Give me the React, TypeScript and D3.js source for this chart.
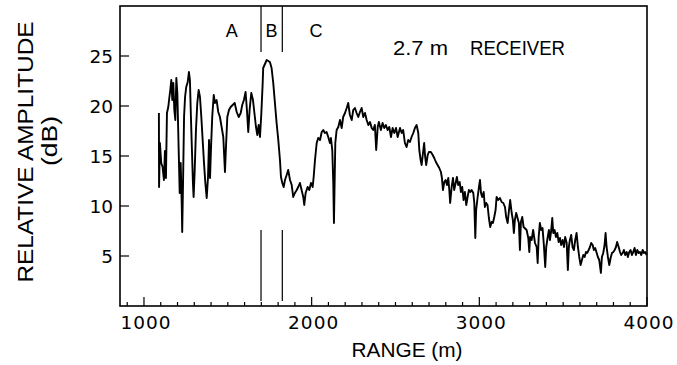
import React from "react";
import * as d3 from "d3";

// Range (m), relative amplitude (dB)
const amplitudeTrace: [number, number][] = [
  [1089, 19.3], [1090, 11.9], [1095, 16.3], [1103, 14.3], [1111, 13.9], [1119, 12.6], [1125, 15.5], [1131, 12.8],
  [1137, 19.3], [1145, 19.9], [1151, 20.8], [1157, 21.6], [1163, 22.6], [1169, 20.6], [1175, 22.3], [1181, 19.6],
  [1187, 18.6], [1193, 22.8], [1199, 21.3], [1207, 15.6], [1213, 11.3], [1219, 14.3], [1225, 10.3], [1228, 7.4],
  [1233, 12.3], [1239, 18.9], [1245, 20.9], [1252, 21.9], [1261, 22.4], [1268, 23.4], [1274, 22.6], [1280, 18.9],
  [1286, 15.6], [1292, 12.3], [1296, 10.9], [1302, 13.3], [1310, 17.6], [1318, 20.3], [1326, 21.6], [1334, 20.9],
  [1342, 18.9], [1350, 16.6], [1358, 14.3], [1366, 12.3], [1374, 10.8], [1382, 12.9], [1388, 16.6], [1394, 12.8],
  [1400, 15.9], [1407, 18.9], [1416, 21.1], [1423, 20.3], [1433, 20.6], [1443, 19.4], [1453, 18.9], [1463, 17.9],
  [1473, 16.9], [1483, 13.4], [1489, 15.9], [1497, 18.9], [1507, 19.6], [1517, 19.9], [1529, 20.1], [1541, 20.3],
  [1553, 19.4], [1565, 18.9], [1577, 19.3], [1586, 20.1], [1596, 20.6], [1606, 21.4], [1614, 19.6], [1622, 17.4],
  [1630, 19.6], [1640, 21.3], [1650, 20.6], [1660, 19.1], [1668, 17.9], [1676, 17.1], [1684, 18.1], [1692, 16.9],
  [1700, 19.3], [1708, 22.3],
  [1711, 23.8], [1732, 24.6], [1751, 24.4], [1761, 23.8], [1771, 22.3], [1781, 20.3], [1791, 18.3], [1801, 16.6],
  [1811, 14.6], [1817, 12.9], [1825, 12.3], [1833, 11.9], [1841, 12.6], [1851, 13.1], [1860, 13.6], [1871, 12.6],
  [1881, 12.1], [1890, 10.9], [1900, 11.3], [1911, 11.6], [1920, 11.9], [1930, 12.3], [1940, 11.6], [1950, 10.9],
  [1956, 10.1], [1964, 11.3], [1976, 11.9], [1986, 11.6], [1996, 12.3], [2006, 11.9], [2012, 12.9], [2020, 14.6],
  [2030, 16.3], [2039, 16.8], [2050, 16.6], [2060, 17.4], [2069, 17.6], [2079, 17.3], [2089, 17.4], [2099, 16.9],
  [2109, 16.3], [2115, 16.8], [2123, 15.6], [2129, 12.3], [2133, 8.3], [2137, 12.3], [2141, 16.3], [2149, 17.6],
  [2159, 17.9], [2169, 18.6], [2179, 17.8], [2188, 18.9], [2199, 19.3], [2209, 19.8], [2218, 20.3], [2228, 19.1],
  [2239, 18.6], [2248, 19.6], [2258, 19.8], [2268, 19.3], [2278, 18.9], [2288, 19.4], [2298, 19.8], [2308, 18.9],
  [2318, 19.3], [2328, 18.6], [2338, 18.1], [2348, 18.4], [2358, 17.8], [2367, 17.6], [2377, 18.1], [2385, 15.6],
  [2394, 17.9], [2401, 18.4], [2413, 17.6], [2423, 18.3], [2433, 17.8], [2443, 18.1], [2453, 17.6], [2463, 17.9],
  [2473, 16.9], [2483, 17.8], [2493, 17.3], [2503, 17.8], [2513, 16.9],
  [2527, 17.8], [2537, 17.3], [2546, 17.6], [2556, 16.3], [2566, 15.9], [2576, 16.6], [2586, 16.4], [2596, 16.9],
  [2606, 17.3], [2616, 17.8], [2626, 18.1], [2636, 17.3], [2642, 15.6], [2650, 14.6], [2656, 14.1], [2664, 15.3],
  [2671, 16.3], [2677, 14.9], [2683, 14.1], [2692, 15.1], [2699, 15.4], [2711, 15.4], [2722, 15.1], [2731, 14.8],
  [2741, 14.4], [2751, 14.1], [2761, 13.8], [2771, 13.4], [2777, 12.8], [2783, 11.6], [2791, 12.4], [2799, 12.6],
  [2807, 12.1], [2815, 12.8], [2821, 11.6], [2826, 10.3], [2835, 11.9], [2843, 12.8], [2850, 11.6], [2859, 12.3],
  [2866, 12.9], [2874, 12.1], [2883, 12.4], [2890, 11.4], [2898, 11.9], [2906, 10.6], [2914, 11.4], [2922, 10.1],
  [2930, 10.9], [2938, 11.6], [2946, 11.4], [2954, 11.6], [2964, 11.3], [2970, 10.3], [2976, 6.8], [2981, 9.6],
  [2990, 10.9], [2998, 11.9], [3004, 12.6], [3010, 11.3], [3017, 10.9], [3026, 11.4], [3033, 9.9], [3041, 10.3],
  [3049, 10.1], [3057, 8.8], [3065, 7.9], [3073, 8.4], [3081, 8.3], [3089, 8.9], [3097, 9.6], [3103, 10.9],
  [3113, 10.6], [3123, 10.8], [3133, 10.4], [3143, 10.3], [3153, 9.9], [3160, 8.9], [3169, 8.3], [3177, 9.6],
  [3184, 10.6], [3193, 9.3], [3200, 8.6], [3206, 7.3], [3212, 8.6], [3220, 9.3], [3228, 8.8], [3236, 8.3],
  [3242, 5.6], [3248, 8.4], [3256, 8.9], [3264, 7.9],
  [3282, 7.6], [3292, 6.8], [3298, 5.4], [3303, 6.9], [3312, 6.6], [3321, 7.6], [3332, 6.3], [3342, 5.9],
  [3348, 4.3], [3354, 6.9], [3361, 8.3], [3369, 7.6], [3377, 7.8], [3385, 6.1], [3393, 3.9], [3399, 5.9],
  [3407, 6.8], [3415, 7.6], [3421, 6.6], [3429, 7.6], [3435, 8.8], [3441, 7.3], [3449, 7.6], [3457, 6.9],
  [3465, 7.3], [3473, 6.4], [3481, 6.8], [3488, 6.1], [3497, 6.6], [3505, 5.9], [3512, 6.9], [3521, 6.3],
  [3528, 3.6], [3534, 5.9], [3540, 6.6], [3548, 7.1], [3556, 5.9], [3564, 5.6], [3572, 6.6], [3580, 7.3],
  [3588, 5.9], [3596, 4.9], [3604, 4.1], [3612, 4.6], [3620, 5.1], [3628, 4.9], [3636, 5.4], [3643, 5.3],
  [3652, 5.6], [3660, 5.9], [3667, 6.3], [3676, 6.1], [3683, 5.6], [3691, 5.8], [3700, 5.3], [3707, 4.9],
  [3715, 4.6], [3725, 3.3], [3731, 4.9], [3739, 5.3], [3747, 6.1], [3753, 7.3], [3759, 5.9], [3767, 4.9],
  [3775, 4.1], [3783, 4.8], [3791, 5.3], [3799, 5.4], [3807, 5.6], [3815, 5.9], [3822, 6.4], [3831, 5.9],
  [3839, 5.4], [3846, 5.1], [3855, 5.3], [3862, 5.6], [3870, 5.1], [3879, 5.4], [3886, 4.9], [3894, 5.4],
  [3902, 5.6], [3910, 5.1], [3918, 5.4], [3926, 5.8], [3934, 5.1], [3942, 5.6], [3950, 5.3], [3958, 5.4],
  [3966, 5.1], [3974, 5.6], [3982, 5.3], [3989, 5.4], [3998, 5.1],
];

const xDomain = [857, 4000];
const yDomain = [0, 30];
const yTicks = [5, 10, 15, 20, 25];
const xMajorTicks = [1000, 2000, 3000, 4000];
const xMinorTicks = [900, 1100, 1200, 1300, 1400, 1500, 1600, 1700, 1800, 1900, 2100, 2200, 2300, 2400, 2500, 2600, 2700, 2800, 2900, 3100, 3200, 3300, 3400, 3500, 3600, 3700, 3800, 3900];
const zoneLabels = ["A", "B", "C"];
const zoneLabelRanges = [1523, 1761, 2026];
const zoneBoundaries = [1698, 1825];
const boundaryTop = [25.4, 30];
const boundaryBottom = [0.5, 7.6];

const FONT = "'Liberation Sans', Arial, sans-serif";

export default function App() {
  const left = 120, right = 647, top = 6, bottom = 306;
  const x = d3.scaleLinear().domain(xDomain).range([left, right]);
  const y = d3.scaleLinear().domain(yDomain).range([bottom, top]);
  const line = d3
    .line<[number, number]>()
    .x((d) => x(d[0]))
    .y((d) => y(d[1]));

  return (
    <svg
      width={677}
      height={365}
      style={{ position: "absolute", left: 0, top: 0, background: "#fff" }}
      fontFamily={FONT}
    >
      <rect x={0} y={0} width={677} height={365} fill="#fff" />
      {/* frame */}
      <rect x={left} y={y(30)} width={right - left} height={bottom - y(30)} fill="none" stroke="#000" strokeWidth={1.6} />

      {/* y ticks */}
      {yTicks.map((t) => (
        <g key={"y" + t}>
          <line x1={left} x2={left + 9} y1={y(t)} y2={y(t)} stroke="#000" strokeWidth={1.2} />
          <text x={113} y={y(t) + 6.5} textAnchor="end" fontSize={18.5} fontFamily="'DejaVu Sans', sans-serif">
            {t}
          </text>
        </g>
      ))}

      {/* x ticks */}
      {xMinorTicks.map((t) => (
        <line key={"xm" + t} x1={x(t)} x2={x(t)} y1={bottom} y2={bottom - 4} stroke="#000" strokeWidth={1.2} />
      ))}
      {xMajorTicks.map((t) => (
        <g key={"xM" + t}>
          <line x1={x(t)} x2={x(t)} y1={bottom} y2={bottom - 9} stroke="#000" strokeWidth={1.2} />
          <text x={x(t) + 2} y={329} textAnchor="middle" fontSize={18.5} fontFamily="'DejaVu Sans', sans-serif" letterSpacing={1}>
            {t}
          </text>
        </g>
      ))}

      {/* zone boundaries */}
      {zoneBoundaries.map((r) => (
        <g key={"zb" + r}>
          <line x1={x(r)} x2={x(r)} y1={y(boundaryTop[0])} y2={y(boundaryTop[1])} stroke="#000" strokeWidth={1.2} />
          <line x1={x(r)} x2={x(r)} y1={y(boundaryBottom[0])} y2={y(boundaryBottom[1])} stroke="#000" strokeWidth={1.2} />
        </g>
      ))}
      {zoneLabels.map((l, i) => (
        <text key={l} x={x(zoneLabelRanges[i])} y={37} textAnchor="middle" fontSize={18}>
          {l}
        </text>
      ))}

      {/* trace */}
      <path d={line(amplitudeTrace) || ""} fill="none" stroke="#000" strokeWidth={1.9} strokeLinejoin="round" />

      {/* annotation */}
      <text x={393} y={55} fontSize={21} textLength={55} lengthAdjust="spacingAndGlyphs">2.7 m</text>
      <text x={470} y={55} fontSize={21} textLength={95} lengthAdjust="spacingAndGlyphs">RECEIVER</text>

      {/* axis titles */}
      <text x={407} y={357} textAnchor="middle" fontSize={20} textLength={111} lengthAdjust="spacingAndGlyphs">
        RANGE (m)
      </text>
      <text transform="translate(33,152) rotate(-90)" textAnchor="middle" fontSize={22} textLength={261} lengthAdjust="spacingAndGlyphs">
        RELATIVE AMPLITUDE
      </text>
      <text transform="translate(57,141) rotate(-90)" textAnchor="middle" fontSize={22} textLength={50} lengthAdjust="spacingAndGlyphs">
        (dB)
      </text>
    </svg>
  );
}
